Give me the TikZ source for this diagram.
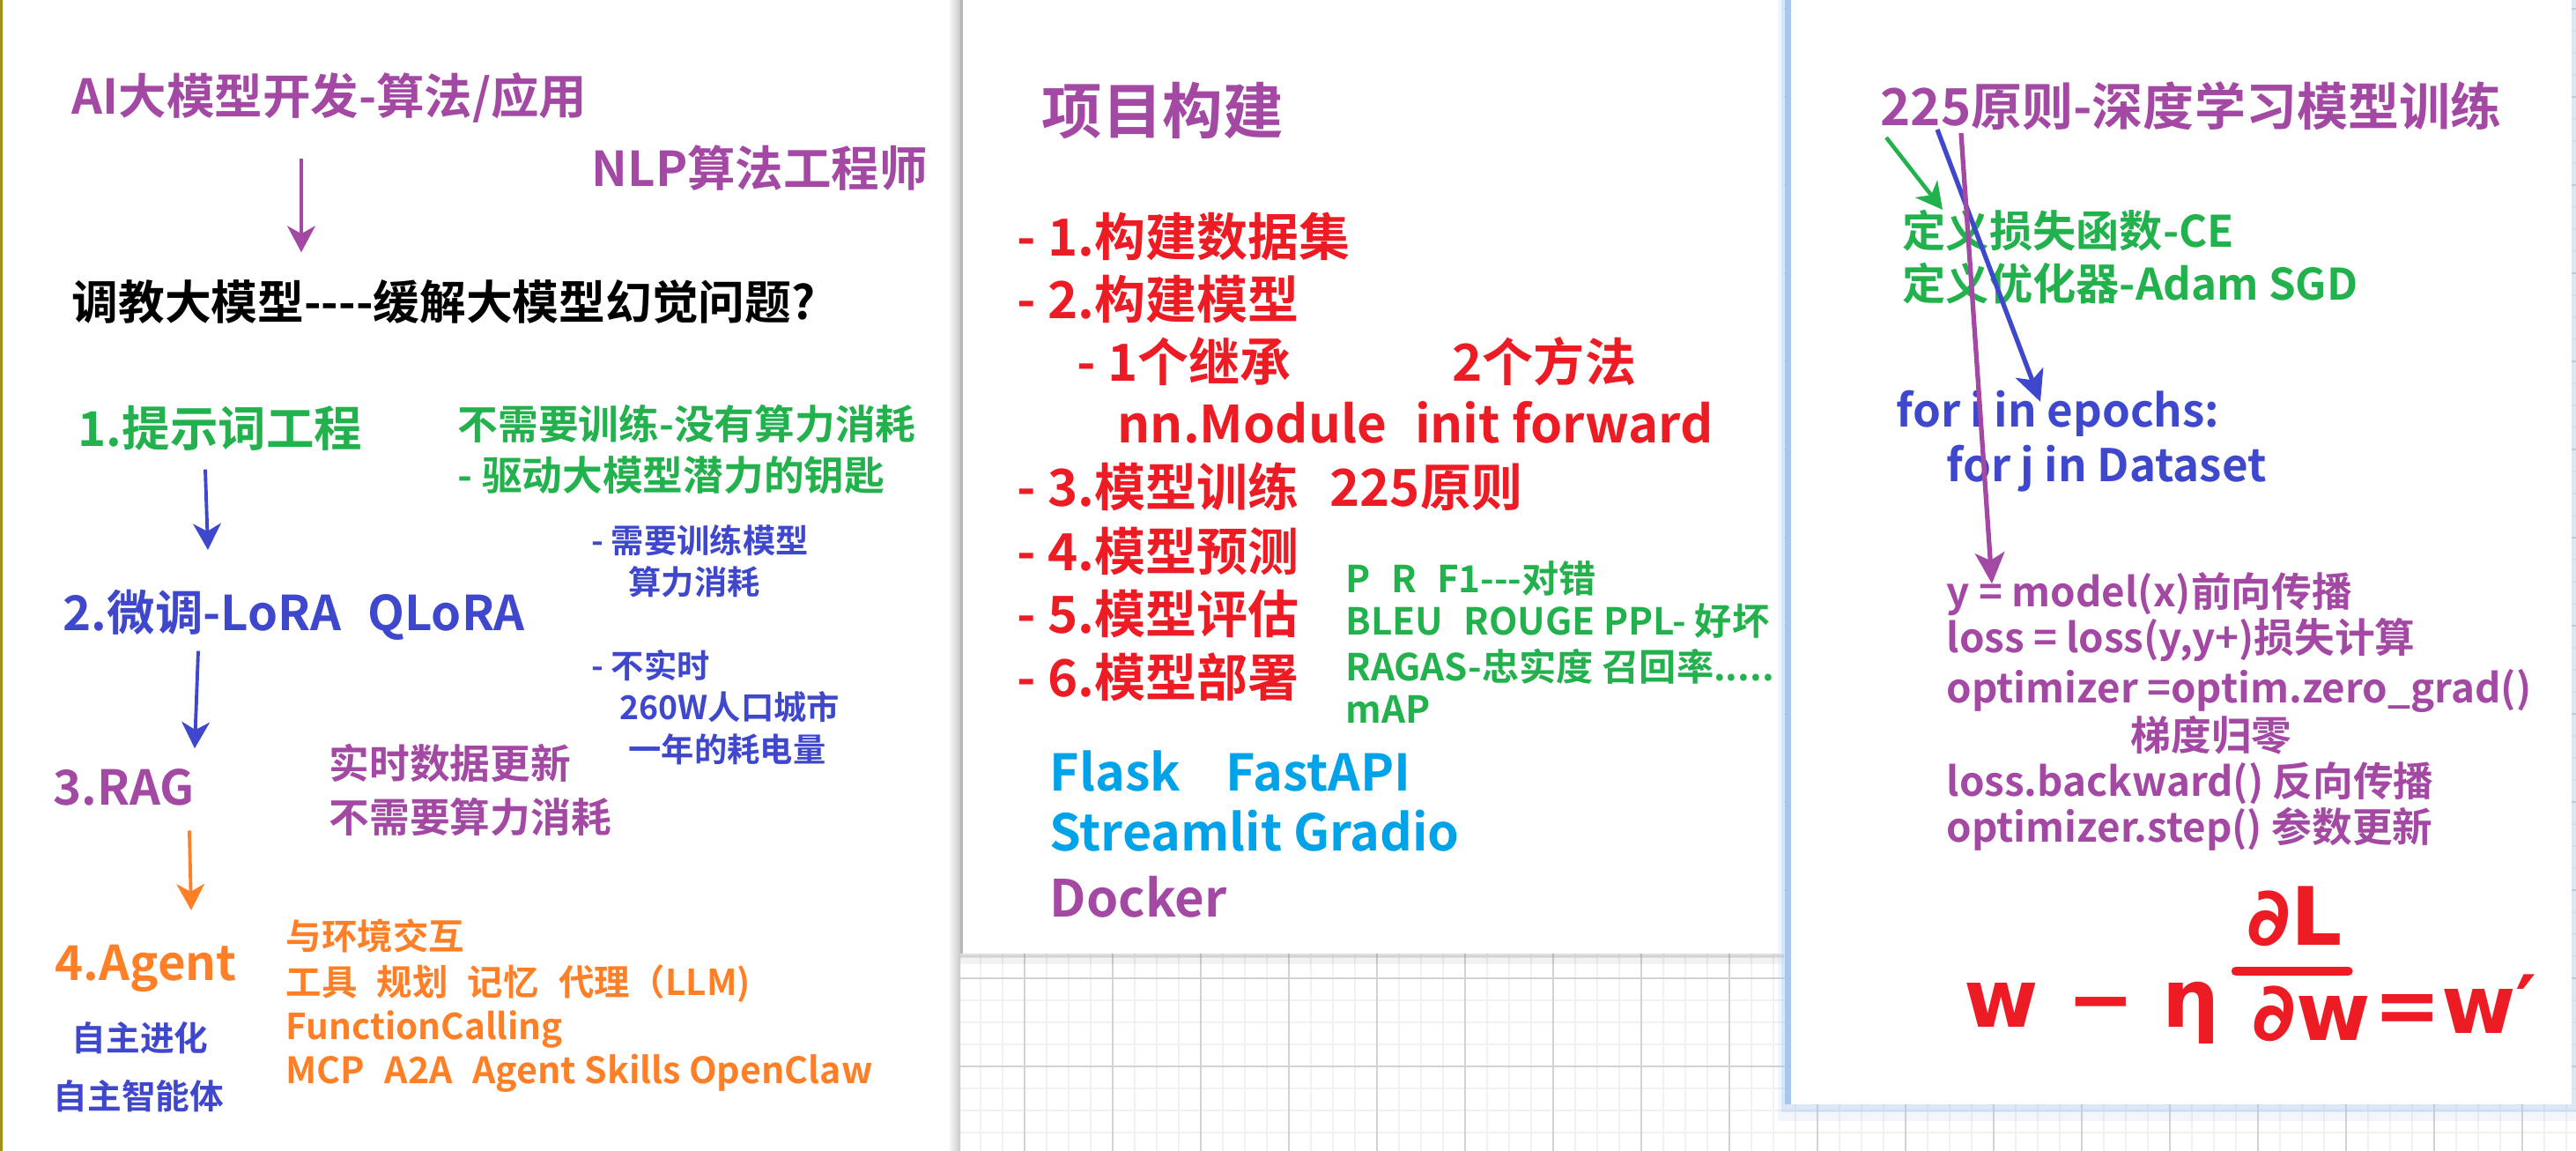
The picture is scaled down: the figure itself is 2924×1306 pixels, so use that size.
\documentclass[tikz,border=0pt]{standalone}
\usepackage{fontspec}
\setmainfont{Noto Sans CJK SC}[BoldFont={* Bold}]
\newfontfamily\handfont{DejaVu Sans}
\usepackage{xcolor}
\usepackage{tikz}
\usetikzlibrary{arrows.meta, calc}

\definecolor{ppurple}{HTML}{A349A4}
\definecolor{pgreen}{HTML}{22B14C}
\definecolor{pblue}{HTML}{3F48CC}
\definecolor{porange}{HTML}{FF7F27}
\definecolor{pred}{HTML}{ED1C24}
\definecolor{pcyan}{HTML}{00A2E8}
\definecolor{gridminor}{HTML}{F1F1F1}
\definecolor{gridmajor}{HTML}{D2D2D2}
\definecolor{panelblue}{HTML}{A7C5EE}
\definecolor{edgeolive}{HTML}{A09020}

\newcommand\tsz[1]{\fontsize{#1}{#1}\selectfont\bfseries}
\newcommand\gap{\hspace{0.55em}}

\begin{document}
\begin{tikzpicture}[
    x=0.01cm, y=-0.01cm,
    lbl/.style={anchor=base west, inner sep=0pt},
    purp/.style={lbl, text=ppurple},
    grn/.style={lbl, text=pgreen},
    blu/.style={lbl, text=pblue},
    org/.style={lbl, text=porange},
    rd/.style={lbl, text=pred},
    cyn/.style={lbl, text=pcyan},
    blk/.style={lbl, text=black},
    scrawl/.style={lbl, text=pred, font=\handfont\fontsize{26}{30}\selectfont\bfseries},
    arr/.style={-{Stealth[length=8.5pt, width=9pt, inset=2.5pt]}, line width=1.1pt},
    arrthick/.style={-{Stealth[length=10pt, width=9.5pt, inset=2.5pt]}, line width=1.5pt},
    minorline/.style={draw=gridminor, line width=0.8pt},
    majorline/.style={draw=gridmajor, line width=0.4pt},
  ]
  \useasboundingbox (0,0) rectangle (2924,1306);
  % ---- grid paper ----
  \fill[white] (0,0) rectangle (2924,1306);
  \foreach \x in {13,38,...,2924} \draw[minorline] (\x,0) -- (\x,1306);
  \foreach \y in {10,35,...,1306} \draw[minorline] (0,\y) -- (2924,\y);
  \foreach \x in {63,163,...,2924} \draw[majorline] (\x,0) -- (\x,1306);
  \foreach \y in {10,110,...,1306} \draw[majorline] (0,\y) -- (2924,\y);
  % ---- panels ----
  \fill[white] (0,0) rectangle (1090,1306);
  \fill[edgeolive] (0,0) rectangle (3,1306);
  \shade[left color=white, right color=black!22] (1076,0) rectangle (1090,1306);
  \fill[black, opacity=.12] (1090,1082) rectangle (2025,1087);
  \fill[black, opacity=.05] (1090,1087) rectangle (2025,1094);
  \fill[white] (1090,0) rectangle (2025,1082);
  \fill[black!28] (1090,0) rectangle (1093,1082);
  \fill[panelblue, opacity=.15] (2018,0) rectangle (2924,1272);
  \fill[panelblue, opacity=.3] (2022,0) rectangle (2924,1262);
  \fill[white] (2033,0) rectangle (2919,1253);
  \fill[panelblue] (2026,0) rectangle (2033,1253);

  % ---- left: route to large models ----
  \node[purp, font=\tsz{15.5}] (ai)   at (81,129)  {AI大模型开发-算法/应用};
  \node[purp, font=\tsz{15.5}] (nlp)  at (671,211) {NLP算法工程师};
  \node[blk,  font=\tsz{15}]   (tune) at (81,362)  {调教大模型-{}-{}-{}-缓解大模型幻觉问题?};
  \node[grn,  font=\tsz{15.5}] (pe)   at (88,506)  {1.提示词工程};
  \node[grn,  font=\tsz{13}]   (pe1)  at (519,498) {不需要训练-没有算力消耗};
  \node[grn,  font=\tsz{13}]   (pe2)  at (519,556) {- 驱动大模型潜力的钥匙};
  \node[blu,  font=\tsz{10.6}] (ft1)  at (671,627) {- 需要训练模型};
  \node[blu,  font=\tsz{10.6}] (ft2)  at (713,674) {算力消耗};
  \node[blu,  font=\tsz{15.5}] (ft)   at (71,715)  {2.微调-LoRA\gap QLoRA};
  \node[blu,  font=\tsz{10.6}] (ft3)  at (671,769) {- 不实时};
  \node[blu,  font=\tsz{10.6}] (ft4)  at (703,816) {260W人口城市};
  \node[blu,  font=\tsz{10.6}] (ft5)  at (713,864) {一年的耗电量};
  \node[purp, font=\tsz{15.5}] (rag)  at (60,913)  {3.RAG};
  \node[purp, font=\tsz{13}]   (rag1) at (373,883) {实时数据更新};
  \node[purp, font=\tsz{13}]   (rag2) at (373,944) {不需要算力消耗};
  \node[org,  font=\tsz{15.5}] (agent) at (62,1112) {4.Agent};
  \node[blu,  font=\tsz{11}]   (ag1)  at (81,1192) {自主进化};
  \node[blu,  font=\tsz{11}]   (ag2)  at (60,1258) {自主智能体};
  \node[org,  font=\tsz{11.5}] (ag3)  at (324,1077) {与环境交互};
  \node[org,  font=\tsz{11.5}] (ag4)  at (324,1129) {工具\gap 规划\gap 记忆\gap 代理（LLM)};
  \node[org,  font=\tsz{11.5}] (ag5)  at (324,1179) {FunctionCalling};
  \node[org,  font=\tsz{11.7}] (ag6)  at (324,1229) {MCP\gap A2A\gap Agent Skills OpenClaw};
  \draw[arr, ppurple] ($(ai.south west)+(261,40)$) -- ($(tune.north west)+(261,-30)$);
  \draw[arr, pblue]   ($(pe.south west)+(145,21)$) -- ($(ft.north west)+(165,-44)$);
  \draw[arr, pblue]   ($(ft.south west)+(154,12)$) -- ($(rag.north west)+(161,-22)$);
  \draw[arr, porange] ($(rag.south west)+(155,28)$) -- ($(agent.north west)+(155,-38)$);

  % ---- middle: project steps ----
  \node[purp, font=\tsz{19.5}] (proj) at (1182,151) {项目构建};
  \node[rd, font=\tsz{16.5}] (s1)  at (1154,290) {- 1.构建数据集};
  \node[rd, font=\tsz{16.5}] (s2)  at (1154,361) {- 2.构建模型};
  \node[rd, font=\tsz{16.5}] (s2a) at (1222,432) {- 1个继承};
  \node[rd, font=\tsz{16.5}] (s2b) at (1648,432) {2个方法};
  \node[rd, font=\tsz{16.5}] (s2c) at (1268,502) {nn.Module\gap init forward};
  \node[rd, font=\tsz{16.5}] (s3)  at (1154,574) {- 3.模型训练\hspace{0.6em}225原则};
  \node[rd, font=\tsz{16.5}] (s4)  at (1154,647) {- 4.模型预测};
  \node[rd, font=\tsz{16.5}] (s5)  at (1154,718) {- 5.模型评估};
  \node[rd, font=\tsz{16.5}] (s6)  at (1154,790) {- 6.模型部署};
  \node[grn, font=\tsz{12}] (ev1) at (1527,672) {P\gap R\gap F1-{}-{}-对错};
  \node[grn, font=\tsz{12}] (ev2) at (1527,720) {BLEU\gap ROUGE PPL- 好坏};
  \node[grn, font=\tsz{12}] (ev3) at (1527,772) {RAGAS-忠实度 召回率.....};
  \node[grn, font=\tsz{12}] (ev4) at (1527,820) {mAP};
  \node[cyn, font=\tsz{16.3}]  (dp1) at (1191,897)  {Flask\hspace{0.9em}FastAPI};
  \node[cyn, font=\tsz{16.3}]  (dp2) at (1191,965)  {Streamlit Gradio};
  \node[purp, font=\tsz{16.5}] (dp3) at (1191,1040) {Docker};

  % ---- right: training loop ----
  \node[purp, font=\tsz{16.5}] (rule) at (2134,142) {225原则-深度学习模型训练};
  \node[grn, font=\tsz{14}] (lossdef) at (2159,280) {定义损失函数-CE};
  \node[grn, font=\tsz{14}] (optdef)  at (2159,340) {定义优化器-Adam SGD};
  \node[blu, font=\tsz{14.5}] (loopi) at (2152,484) {for i in epochs:};
  \node[blu, font=\tsz{14.5}] (loopj) at (2209,546) {for j in Dataset};
  \node[purp, font=\tsz{13}] (c1) at (2209,688) {y = model(x)前向传播};
  \node[purp, font=\tsz{13}] (c2) at (2209,740) {loss = loss(y,y+)损失计算};
  \node[purp, font=\tsz{13}] (c3) at (2209,797) {optimizer =optim.zero\_grad()};
  \node[purp, font=\tsz{13}] (c4) at (2418,851) {梯度归零};
  \node[purp, font=\tsz{13}] (c5) at (2209,903) {loss.backward() 反向传播};
  \node[purp, font=\tsz{13}] (c6) at (2209,955) {optimizer.step() 参数更新};
  % handwritten update rule
  \node[scrawl] (wl)  at (2229,1165) {w − η};
  \node[scrawl] (num) at (2550,1072) {∂L};
  \node[scrawl] (den) at (2556,1180) {∂w};
  \node[scrawl] (wr)  at (2694,1172) {=w′};
  \draw[pred, line width=3pt, line cap=round] ($(num.south west)+(-12,28)$) -- ($(num.south east)+(6,28)$);
  \draw[arr, pgreen, line width=1.3pt] ($(rule.south west)+(7,8)$) -- ($(lossdef.north west)+(46,1)$);
  \draw[arrthick, pblue] ($(rule.south west)+(65,-1)$) -- ($(loopi.north west)+(164,14)$);
  \draw[arrthick, ppurple] ($(rule.south west)+(92,3)$) -- ($(c1.north west)+(52,14)$);
\end{tikzpicture}
\end{document}
